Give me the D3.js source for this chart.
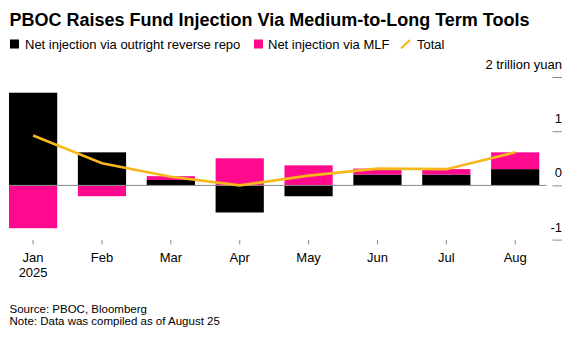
<!DOCTYPE html>
<html>
<head>
    <meta charset="utf-8">
    <script src="https://d3js.org/d3.v7.min.js"></script>
    <style>
        body { margin: 0; background: #fff; }
        text { font-family: "Liberation Sans", Arial, sans-serif; fill: #000; }
    </style>
</head>
<body>
    <div id="chart"></div>
<script>
    const months = ["Jan", "Feb", "Mar", "Apr", "May", "Jun", "Jul", "Aug"];
    const reverseRepo = [1.71, 0.61, 0.10, -0.50, -0.20, 0.20, 0.20, 0.30];
    const mlf = [-0.79, -0.20, 0.07, 0.50, 0.37, 0.11, 0.10, 0.31];
    const total = [0.92, 0.41, 0.16, 0.00, 0.18, 0.31, 0.30, 0.61];
    const yTicks = [-1, 0, 1, 2];
    const yTickLabels = ["-1", "0", "1", "2 trillion yuan"];

    const W = 571, H = 340;
    const colRepo = "#000000", colMlf = "#ff0a8e", colTotal = "#f7b81c";

    const svg = d3.select("#chart").append("svg")
        .attr("width", W)
        .attr("height", H);

    // title + legend
    svg.append("text")
        .attr("x", 9.5).attr("y", 26)
        .style("font-size", "18px").style("font-weight", "bold")
        .text("PBOC Raises Fund Injection Via Medium-to-Long Term Tools");

    const legend = svg.append("g").style("font-size", "13px");
    legend.append("rect").attr("x", 10).attr("y", 39.5).attr("width", 9).attr("height", 9).attr("fill", colRepo);
    legend.append("text").attr("x", 25).attr("y", 48.5).text("Net injection via outright reverse repo");
    legend.append("rect").attr("x", 254).attr("y", 39.5).attr("width", 9).attr("height", 9).attr("fill", colMlf);
    legend.append("text").attr("x", 268).attr("y", 48.5).text("Net injection via MLF");
    legend.append("line").attr("x1", 401).attr("y1", 48.5).attr("x2", 410).attr("y2", 40)
        .attr("stroke", colTotal).attr("stroke-width", 2.2);
    legend.append("text").attr("x", 417).attr("y", 48.5).text("Total");

    // scales
    const x = d3.scaleBand()
        .domain(months)
        .range([9, 539.3])
        .paddingInner(0.3)
        .paddingOuter(0);

    const y = d3.scaleLinear()
        .domain([-1, 2])
        .range([239.6, 77]);

    // stacked (diverging) bars
    const rows = months.map((m, i) => ({month: m, repo: reverseRepo[i], mlf: mlf[i]}));
    const series = d3.stack()
        .keys(["repo", "mlf"])
        .offset(d3.stackOffsetDiverging)(rows);
    const color = d3.scaleOrdinal().domain(["repo", "mlf"]).range([colRepo, colMlf]);

    svg.append("g")
        .selectAll("g")
        .data(series)
        .join("g")
        .attr("fill", d => color(d.key))
        .selectAll("rect")
        .data(d => d)
        .join("rect")
        .attr("x", d => x(d.data.month))
        .attr("width", x.bandwidth())
        .attr("y", d => y(Math.max(d[0], d[1])))
        .attr("height", d => Math.abs(y(d[0]) - y(d[1])));

    // zero line
    svg.append("line")
        .attr("x1", 9).attr("x2", 546.5)
        .attr("y1", y(0)).attr("y2", y(0))
        .attr("stroke", "#8a8a8a").attr("stroke-width", 1);

    // total line
    svg.append("path")
        .datum(total)
        .attr("fill", "none")
        .attr("stroke", colTotal)
        .attr("stroke-width", 2.6)
        .attr("d", d3.line()
            .x((d, i) => x(months[i]) + x.bandwidth() / 2)
            .y(d => y(d)));

    // x axis
    const xAxis = svg.append("g")
        .attr("transform", "translate(0,240)")
        .call(d3.axisBottom(x).tickSizeInner(4.5).tickSizeOuter(0).tickPadding(8.3));
    xAxis.select(".domain").remove();
    xAxis.selectAll(".tick line").attr("stroke", "#8a8a8a");
    xAxis.selectAll(".tick text")
        .style("font-size", "13px")
        .style("font-family", "'Liberation Sans', Arial, sans-serif")
        .attr("fill", "#000");
    xAxis.append("text")
        .attr("x", x("Jan") + x.bandwidth() / 2)
        .attr("y", 37)
        .attr("text-anchor", "middle")
        .style("font-size", "13px")
        .text("2025");

    // y axis (right side, labels above ticks)
    const yAxis = svg.append("g")
        .attr("transform", "translate(552.5,0)")
        .call(d3.axisRight(y).tickValues(yTicks).tickSize(9.5)
            .tickFormat((d, i) => yTickLabels[i]));
    yAxis.select(".domain").remove();
    yAxis.selectAll(".tick line").attr("stroke", "#8a8a8a");
    yAxis.selectAll(".tick text")
        .attr("x", 9.5)
        .attr("dy", null)
        .attr("y", -8.5)
        .attr("text-anchor", "end")
        .attr("fill", "#000")
        .style("font-size", "13px")
        .style("font-family", "'Liberation Sans', Arial, sans-serif");

    // footer
    const foot = svg.append("g").style("font-size", "11.5px");
    foot.append("text").attr("x", 9.5).attr("y", 312.5).text("Source: PBOC, Bloomberg");
    foot.append("text").attr("x", 9.5).attr("y", 325.2).text("Note: Data was compiled as of August 25");
</script>
</body>
</html>
